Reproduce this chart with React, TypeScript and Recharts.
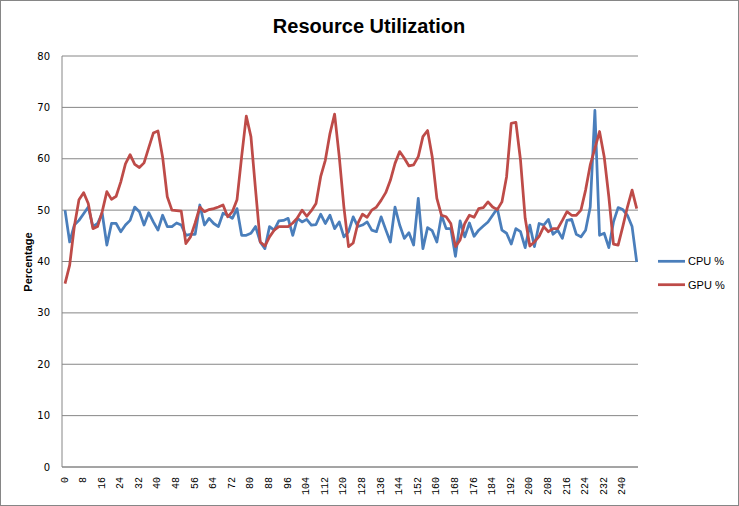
import React from 'react';
import { LineChart, Line, XAxis, YAxis, CartesianGrid } from 'recharts';

const cpuPercent = [
  50, 43.8, 47.1, 48, 49.3, 50.6, 46.8, 47.4, 49.4, 43.2,
  47.4, 47.4, 45.8, 47.1, 48, 50.6, 49.7, 47.1, 49.5, 47.7,
  46.1, 49, 46.8, 46.8, 47.5, 47.1, 45.1, 45.3, 45.3, 51,
  47.1, 48.4, 47.4, 46.8, 49.4, 49, 48.4, 50.3, 45.1, 45.1,
  45.5, 46.8, 43.8, 42.5, 46.8, 46.1, 47.9, 48, 48.4, 45.1,
  48.4, 47.7, 48.2, 47.1, 47.2, 49.2, 47.4, 49, 46.4, 47.7,
  44.8, 45.8, 48.7, 46.8, 47.1, 47.7, 46.1, 45.8, 48.7, 46.2,
  43.8, 50.6, 47.1, 44.5, 45.6, 43.2, 52.3, 42.5, 46.6, 46,
  43.8, 49, 46.4, 46.4, 41, 47.9, 44.8, 47.5, 44.9, 46.1,
  46.9, 47.7, 49, 50.3, 46.1, 45.5, 43.4, 46.4, 45.8, 42.7,
  47.1, 42.9, 47.4, 47.1, 48.2, 45.3, 46.1, 44.5, 48, 48.2,
  45.3, 44.8, 46.1, 50.6, 69.4, 45.1, 45.5, 42.7, 47.7, 50.5,
  50.1, 49, 46.8, 39.9,
];

const gpuPercent = [
  35.7, 39.3, 46.8, 52, 53.4, 51.3, 46.4, 46.8, 49.7, 53.6,
  52.1, 52.7, 55.5, 59, 60.8, 58.9, 58.3, 59.2, 62.1, 65,
  65.4, 60.3, 52.6, 50, 49.9, 49.8, 43.5, 44.8, 47.5, 50.6,
  49.7, 50.1, 50.3, 50.6, 51, 48.7, 49.7, 52, 60.4, 68.3,
  64.3, 53.9, 43.8, 43, 44.8, 46.1, 46.8, 46.8, 46.8, 47.5,
  48.5, 50, 48.8, 49.9, 51.3, 56.5, 59.7, 64.9, 68.7, 60.4,
  50.6, 42.9, 43.6, 47.4, 49.2, 48.6, 50, 50.6, 51.9, 53.4,
  55.8, 59.1, 61.4, 60.1, 58.6, 58.8, 60.4, 64.3, 65.5, 60.4,
  52.3, 49, 48.7, 47.4, 42.9, 44.2, 47.4, 49, 48.6, 50.3,
  50.5, 51.6, 50.6, 50.1, 51.6, 56.5, 66.9, 67.1, 59.7, 48.4,
  43, 43.8, 44.9, 46.8, 45.8, 46.4, 46.4, 48, 49.7, 49,
  49, 50, 53.9, 58.8, 62, 65.3, 60.4, 52.6, 43.4, 43.2,
  46.8, 50.6, 53.9, 50.3,
];

const sampleX = cpuPercent.map((_, i) => i * 2);

const xTicks = [0, 8, 16, 24, 32, 40, 48, 56, 64, 72, 80, 88, 96, 104, 112, 120, 128, 136, 144, 152, 160, 168, 176, 184, 192, 200, 208, 216, 224, 232, 240];
const yTicks = [0, 10, 20, 30, 40, 50, 60, 70, 80];

const chartTitle = 'Resource Utilization';
const yAxisTitle = 'Percentage';
const seriesNames = ['CPU %', 'GPU %'];
const seriesColors = ['#4A7EBB', '#BE4B48'];

const data = sampleX.map((x, i) => ({ x, cpu: cpuPercent[i], gpu: gpuPercent[i] }));

const XTick = (props: any) => {
  const { x, y, payload } = props;
  const ty = y + 2;
  return (
    <text
      x={x}
      y={ty}
      transform={`rotate(-90 ${x} ${ty})`}
      textAnchor="end"
      dominantBaseline="central"
      fontFamily="Liberation Mono, monospace"
      fontSize={10}
      fill="#000"
    >
      {payload.value}
    </text>
  );
};

export default function App() {
  return (
    <div style={{ position: 'absolute', left: 0, top: 0, width: 739, height: 506, background: '#fff' }}>
      <LineChart width={739} height={506} data={data} margin={{ top: 56, right: 101, bottom: 0, left: 0 }}>
        <CartesianGrid vertical={false} stroke="#868686" strokeWidth={1} />
        <XAxis
          dataKey="x"
          type="number"
          domain={[-1.3, 246.55]}
          allowDataOverflow
          ticks={xTicks}
          interval={0}
          height={39}
          tickLine={false}
          axisLine={{ stroke: '#868686' }}
          tick={<XTick />}
        />
        <YAxis
          type="number"
          domain={[0, 80]}
          ticks={yTicks}
          interval={0}
          width={62}
          tickLine={false}
          tickMargin={6}
          axisLine={{ stroke: '#868686' }}
          tick={{ fontSize: 10, fill: '#000', fontFamily: 'DejaVu Sans, Verdana, sans-serif' }}
        />
        <Line
          type="linear"
          dataKey="cpu"
          name={seriesNames[0]}
          stroke={seriesColors[0]}
          strokeWidth={2.75}
          dot={false}
          strokeLinejoin="round"
          isAnimationActive={false}
        />
        <Line
          type="linear"
          dataKey="gpu"
          name={seriesNames[1]}
          stroke={seriesColors[1]}
          strokeWidth={2.75}
          dot={false}
          strokeLinejoin="round"
          isAnimationActive={false}
        />
      </LineChart>
      <svg
        width={739}
        height={506}
        style={{ position: 'absolute', left: 0, top: 0, pointerEvents: 'none' }}
      >
        <rect x={0.5} y={0.5} width={738} height={505} fill="none" stroke="#868686" strokeWidth={1} />
        <text
          x={369}
          y={33}
          textAnchor="middle"
          fontFamily="Liberation Sans, Arial, sans-serif"
          fontWeight="bold"
          fontSize={20}
          fill="#000"
        >
          {chartTitle}
        </text>
        <text
          x={28}
          y={262}
          transform="rotate(-90 28 262)"
          textAnchor="middle"
          dominantBaseline="central"
          fontFamily="Liberation Sans, Arial, sans-serif"
          fontWeight="bold"
          fontSize={11}
          fill="#000"
        >
          {yAxisTitle}
        </text>
        {seriesNames.map((name, i) => {
          const cy = 261.3 + i * 23.4;
          return (
            <g key={name}>
              <line x1={658} x2={685} y1={cy} y2={cy} stroke={seriesColors[i]} strokeWidth={2.75} />
              <text
                x={688}
                y={cy}
                dominantBaseline="central"
                fontFamily="Liberation Sans, Arial, sans-serif"
                fontSize={11}
                fill="#000"
              >
                {name}
              </text>
            </g>
          );
        })}
      </svg>
    </div>
  );
}
